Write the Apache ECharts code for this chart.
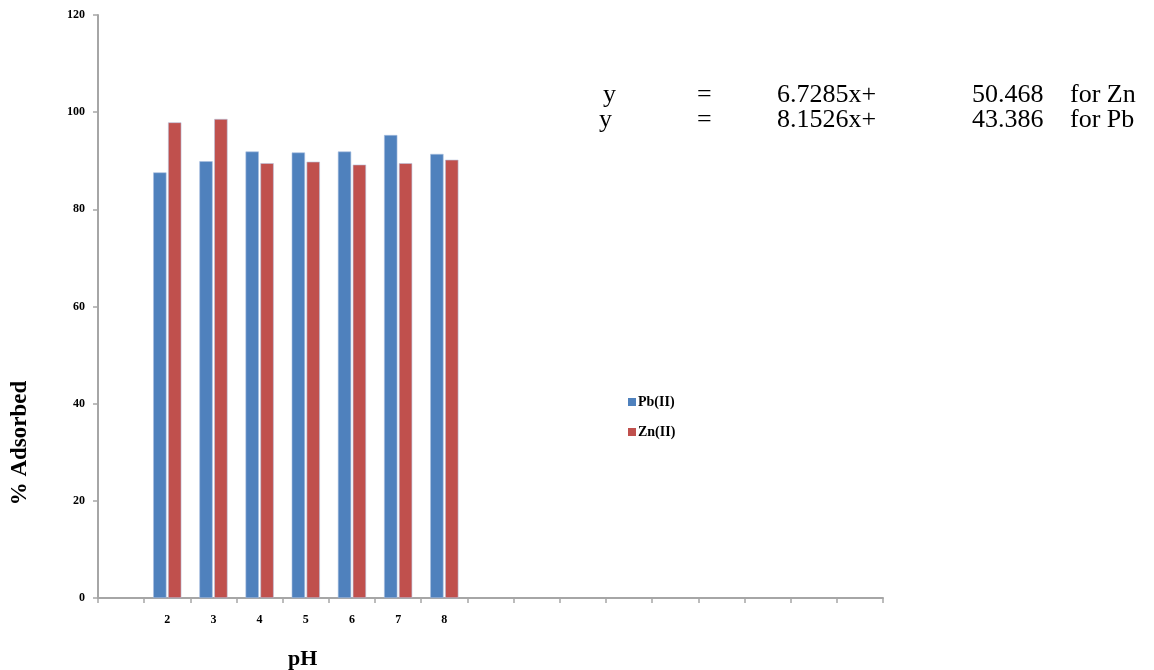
<!DOCTYPE html>
<html>
<head>
<meta charset="utf-8">
<script src="https://cdn.jsdelivr.net/npm/echarts@6/dist/echarts.min.js"></script>
<style>
html,body{margin:0;padding:0;background:#fff;}
#chart{width:1154px;height:670px;}
</style>
</head>
<body>
<div id="chart"></div>
<script>
// Category slots on the x axis (blank slots are empty in the original)
var categories = ['', '2', '3', '4', '5', '6', '7', '8', '', '', '', '', '', '', '', '', ''];
var phLabels = ['2', '3', '4', '5', '6', '7', '8'];
var pbValues = [87.6, 89.9, 91.9, 91.7, 91.9, 95.3, 91.4];
var znValues = [97.9, 98.6, 89.5, 89.8, 89.2, 89.5, 90.2];
var yTicks = [0, 20, 40, 60, 80, 100, 120];
var eqLine1 = ['y', '=', '6.7285x+', '50.468', 'for Zn'];
var eqLine2 = ['y', '=', '8.1526x+', '43.386', 'for Pb'];

function fill(vals) {
  return categories.map(function (c) {
    var i = phLabels.indexOf(c);
    return i >= 0 && c !== '' ? vals[i] : null;
  });
}

var serif = '"Liberation Serif", "DejaVu Serif", serif';
var axisGrey = '#a6a6a6';
var eqFont = 26;
var eqX = [603, 697, 777, 972, 1070];
function eqTexts(line, top, shift) {
  return line.map(function (t, i) {
    return {
      type: 'text', left: eqX[i] - (i === 0 ? shift : 0), top: top,
      style: { text: t, font: eqFont + 'px ' + serif, fill: '#000' }
    };
  });
}

var chart = echarts.init(document.getElementById('chart'), null, { renderer: 'canvas' });
chart.setOption({
  animation: false,
  backgroundColor: '#fff',
  grid: { left: 98, top: 15, width: 785, bottom: 72, containLabel: false },
  legend: {
    orient: 'vertical', left: 623, top: 390,
    itemWidth: 8, itemHeight: 8, itemGap: 16,
    icon: 'rect',
    itemStyle: { borderWidth: 0 },
    textStyle: { fontFamily: serif, fontWeight: 'bold', fontSize: 14, color: '#000', padding: [0, 0, 0, -3] },
    data: ['Pb(II)', 'Zn(II)']
  },
  xAxis: {
    type: 'category', data: categories,
    axisLine: { lineStyle: { color: axisGrey, width: 2 } },
    axisTick: { show: true, length: 5, lineStyle: { color: axisGrey, width: 1.5 } },
    axisLabel: { margin: 16, fontFamily: serif, fontWeight: 'bold', fontSize: 12, color: '#000' },
    splitLine: { show: false }
  },
  yAxis: {
    type: 'value', min: yTicks[0], max: yTicks[yTicks.length - 1], interval: 20,
    axisLine: { show: true, lineStyle: { color: axisGrey, width: 2 } },
    axisTick: { show: true, length: 5, lineStyle: { color: axisGrey, width: 1.5 } },
    axisLabel: { margin: 13, fontFamily: serif, fontWeight: 'bold', fontSize: 12, color: '#000' },
    splitLine: { show: false }
  },
  series: [
    { name: 'Pb(II)', type: 'bar', data: fill(pbValues), barGap: '12%', barCategoryGap: '39%',
      itemStyle: { color: '#4f81bd', borderColor: '#a9bfe0', borderWidth: 0.6 } },
    { name: 'Zn(II)', type: 'bar', data: fill(znValues),
      itemStyle: { color: '#c0504d', borderColor: '#b7c3dd', borderWidth: 0.6 } }
  ],
  graphic: [].concat(
    eqTexts(eqLine1, 82, 0),
    eqTexts(eqLine2, 107, 4),
    [
      { type: 'text', left: 288, top: 648,
        style: { text: 'pH', font: 'bold 22px ' + serif, fill: '#000' } },
      { type: 'text', x: 20, y: 443, rotation: Math.PI / 2,
        style: { text: '% Adsorbed', font: 'bold 23px ' + serif, fill: '#000', align: 'center', verticalAlign: 'middle' } }
    ]
  )
});
</script>
</body>
</html>
